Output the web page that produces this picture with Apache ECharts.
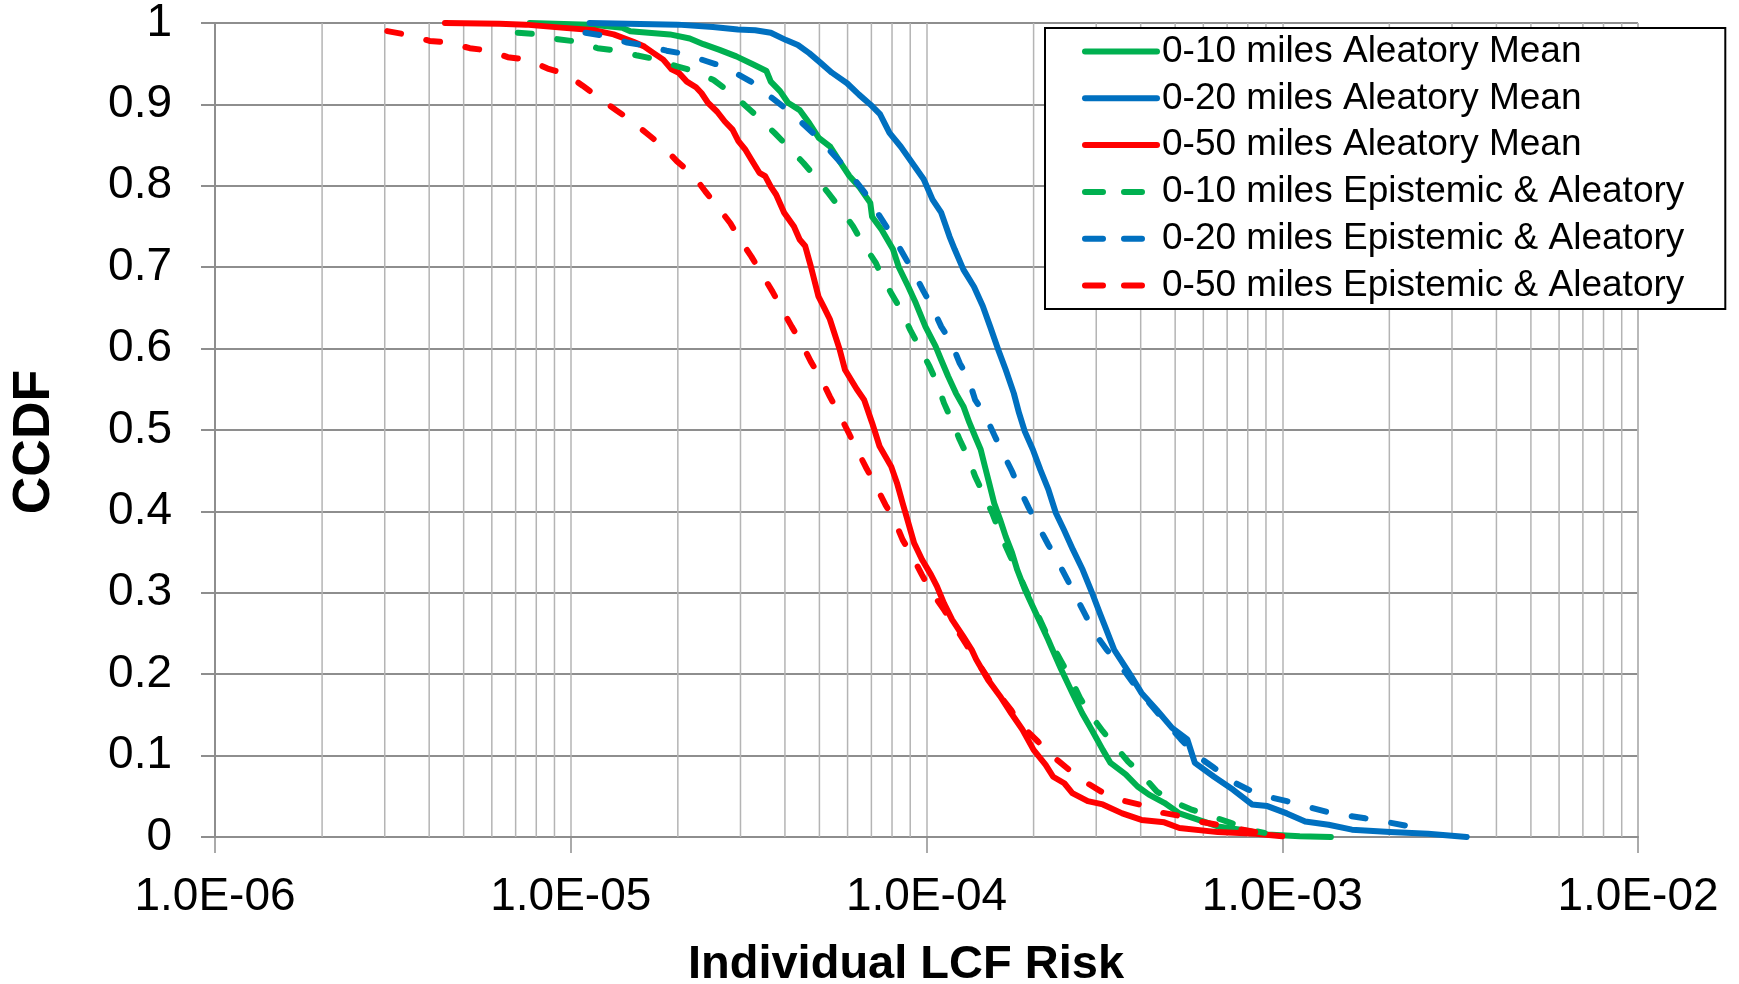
<!DOCTYPE html>
<html>
<head>
<meta charset="utf-8">
<title>CCDF of Individual LCF Risk</title>
<script src="https://cdn.jsdelivr.net/npm/echarts@6/dist/echarts.min.js"></script>
<style>
  html, body { margin: 0; padding: 0; background: #ffffff; }
  #chart { width: 1739px; height: 984px; }
</style>
</head>
<body>
<div id="chart"></div>
<script>
// Tick labels
const xTickLabels = ['1.0E-06', '1.0E-05', '1.0E-04', '1.0E-03', '1.0E-02'];
const yTickLabels = ['0', '0.1', '0.2', '0.3', '0.4', '0.5', '0.6', '0.7', '0.8', '0.9', '1'];

// Series names
const seriesNames = [
  '0-10 miles Aleatory Mean',
  '0-20 miles Aleatory Mean',
  '0-50 miles Aleatory Mean',
  '0-10 miles Epistemic & Aleatory',
  '0-20 miles Epistemic & Aleatory',
  '0-50 miles Epistemic & Aleatory'
];

// [individual LCF risk, CCDF]
const aleatory10 = [
  [7.67e-6,1.000],[1.13e-5,0.998],[1.40e-5,0.994],[1.47e-5,0.990],[1.90e-5,0.986],[2.16e-5,0.981],
  [2.36e-5,0.974],[2.62e-5,0.967],[2.92e-5,0.959],[3.26e-5,0.949],[3.55e-5,0.941],[3.65e-5,0.928],
  [3.88e-5,0.916],[4.08e-5,0.902],[4.40e-5,0.893],[4.68e-5,0.877],[4.98e-5,0.859],[5.36e-5,0.848],
  [5.70e-5,0.830],[6.07e-5,0.812],[6.46e-5,0.799],[6.95e-5,0.779],[7.03e-5,0.762],[7.48e-5,0.746],
  [8.05e-5,0.722],[8.36e-5,0.700],[8.89e-5,0.676],[9.33e-5,0.656],[9.93e-5,0.627],[1.06e-4,0.603],
  [1.10e-4,0.586],[1.15e-4,0.566],[1.21e-4,0.545],[1.27e-4,0.529],[1.32e-4,0.509],[1.37e-4,0.492],
  [1.42e-4,0.476],[1.46e-4,0.455],[1.50e-4,0.435],[1.55e-4,0.410],[1.61e-4,0.390],[1.67e-4,0.369],
  [1.74e-4,0.349],[1.80e-4,0.328],[1.89e-4,0.304],[1.99e-4,0.283],[2.09e-4,0.263],[2.20e-4,0.242],
  [2.24e-4,0.234],[2.39e-4,0.206],[2.57e-4,0.177],[2.74e-4,0.152],[2.91e-4,0.132],[3.13e-4,0.107],
  [3.29e-4,0.091],[3.63e-4,0.077],[3.92e-4,0.062],[4.22e-4,0.052],[4.66e-4,0.042],[5.14e-4,0.029],
  [5.82e-4,0.021],[6.59e-4,0.013],[7.64e-4,0.009],[9.08e-4,0.003],[1.12e-3,0.001],[1.37e-3,0.000]
];

const aleatory20 = [
  [1.13e-5,1.000],[2.00e-5,0.998],[2.51e-5,0.995],[2.95e-5,0.992],[3.30e-5,0.991],[3.65e-5,0.988],
  [4.03e-5,0.979],[4.35e-5,0.973],[4.68e-5,0.963],[5.04e-5,0.951],[5.42e-5,0.939],[5.98e-5,0.926],
  [6.46e-5,0.912],[6.95e-5,0.900],[7.40e-5,0.888],[7.87e-5,0.865],[8.47e-5,0.848],[9.12e-5,0.828],
  [9.82e-5,0.808],[1.04e-4,0.783],[1.10e-4,0.767],[1.16e-4,0.738],[1.20e-4,0.722],[1.27e-4,0.697],
  [1.36e-4,0.676],[1.44e-4,0.652],[1.51e-4,0.627],[1.59e-4,0.599],[1.67e-4,0.574],[1.76e-4,0.545],
  [1.82e-4,0.521],[1.89e-4,0.498],[1.99e-4,0.476],[2.09e-4,0.451],[2.20e-4,0.427],[2.31e-4,0.398],
  [2.43e-4,0.378],[2.58e-4,0.353],[2.75e-4,0.328],[2.92e-4,0.300],[3.07e-4,0.275],[3.20e-4,0.255],
  [3.37e-4,0.230],[3.72e-4,0.201],[4.02e-4,0.177],[4.44e-4,0.156],[4.90e-4,0.134],[5.41e-4,0.120],
  [5.68e-4,0.091],[6.43e-4,0.074],[7.28e-4,0.058],[8.22e-4,0.040],[9.08e-4,0.038],[1.03e-3,0.029],
  [1.16e-3,0.019],[1.35e-3,0.015],[1.57e-3,0.009],[2.01e-3,0.006],[2.57e-3,0.004],[3.30e-3,0.000]
];

const aleatory50 = [
  [4.43e-6,1.000],[6.31e-6,0.999],[7.47e-6,0.998],[9.57e-6,0.994],[1.17e-5,0.991],[1.32e-5,0.986],
  [1.50e-5,0.977],[1.61e-5,0.971],[1.71e-5,0.963],[1.82e-5,0.955],[1.92e-5,0.943],[2.01e-5,0.939],
  [2.12e-5,0.928],[2.25e-5,0.921],[2.33e-5,0.914],[2.43e-5,0.902],[2.58e-5,0.891],[2.71e-5,0.879],
  [2.85e-5,0.869],[2.96e-5,0.855],[3.10e-5,0.844],[3.22e-5,0.832],[3.39e-5,0.816],[3.52e-5,0.812],
  [3.65e-5,0.799],[3.78e-5,0.789],[3.98e-5,0.767],[4.24e-5,0.750],[4.40e-5,0.734],[4.56e-5,0.726],
  [4.73e-5,0.701],[4.97e-5,0.664],[5.16e-5,0.650],[5.35e-5,0.636],[5.69e-5,0.600],[5.90e-5,0.574],
  [6.37e-5,0.550],[6.68e-5,0.537],[7.03e-5,0.509],[7.38e-5,0.480],[7.96e-5,0.455],[8.26e-5,0.435],
  [8.57e-5,0.410],[8.89e-5,0.386],[9.23e-5,0.361],[9.71e-5,0.341],[1.03e-4,0.322],[1.07e-4,0.308],
  [1.12e-4,0.287],[1.18e-4,0.267],[1.27e-4,0.246],[1.34e-4,0.230],[1.38e-4,0.218],[1.49e-4,0.193],
  [1.61e-4,0.173],[1.73e-4,0.152],[1.86e-4,0.132],[2.00e-4,0.107],[2.16e-4,0.089],[2.27e-4,0.074],
  [2.44e-4,0.066],[2.57e-4,0.054],[2.84e-4,0.044],[3.13e-4,0.040],[3.55e-4,0.029],[4.02e-4,0.021],
  [4.66e-4,0.018],[5.14e-4,0.011],[6.59e-4,0.006],[8.43e-4,0.004],[1.00e-3,0.001]
];

const epistemic10 = [
  [7.10e-6,0.988],[8.18e-6,0.986],[9.20e-6,0.980],[1.05e-5,0.977],[1.19e-5,0.969],[1.36e-5,0.966],
  [1.54e-5,0.960],[1.76e-5,0.955],[1.98e-5,0.947],[2.22e-5,0.941],[2.52e-5,0.930],[2.78e-5,0.916],
  [3.07e-5,0.900],[3.39e-5,0.883],[3.74e-5,0.865],[4.08e-5,0.848],[4.51e-5,0.828],[4.85e-5,0.812],
  [5.30e-5,0.791],[5.70e-5,0.773],[6.22e-5,0.750],[6.61e-5,0.730],[7.21e-5,0.705],[7.48e-5,0.689],
  [7.96e-5,0.668],[8.47e-5,0.648],[9.00e-5,0.623],[9.57e-5,0.601],[1.02e-4,0.578],[1.07e-4,0.558],
  [1.12e-4,0.533],[1.18e-4,0.511],[1.24e-4,0.488],[1.31e-4,0.466],[1.37e-4,0.443],[1.44e-4,0.423],
  [1.53e-4,0.398],[1.62e-4,0.370],[1.72e-4,0.345],[1.83e-4,0.320],[1.94e-4,0.295],[2.07e-4,0.270],
  [2.21e-4,0.243],[2.39e-4,0.216],[2.54e-4,0.195],[2.70e-4,0.171],[2.87e-4,0.152],[3.13e-4,0.130],
  [3.37e-4,0.113],[3.68e-4,0.093],[4.02e-4,0.077],[4.44e-4,0.056],[4.90e-4,0.044],[5.53e-4,0.034],
  [6.27e-4,0.026],[7.10e-4,0.018],[8.04e-4,0.009],[8.91e-4,0.005]
];

const epistemic20 = [
  [1.10e-5,0.988],[1.26e-5,0.984],[1.44e-5,0.976],[1.63e-5,0.972],[1.86e-5,0.966],[2.09e-5,0.962],
  [2.41e-5,0.953],[2.71e-5,0.946],[3.21e-5,0.928],[3.55e-5,0.913],[3.94e-5,0.898],[4.35e-5,0.882],
  [4.79e-5,0.865],[5.25e-5,0.847],[5.73e-5,0.829],[6.19e-5,0.811],[6.70e-5,0.792],[7.21e-5,0.770],
  [7.76e-5,0.748],[8.32e-5,0.727],[8.89e-5,0.705],[9.12e-5,0.697],[9.82e-5,0.670],[1.03e-4,0.654],
  [1.10e-4,0.627],[1.17e-4,0.609],[1.24e-4,0.582],[1.31e-4,0.564],[1.37e-4,0.537],[1.46e-4,0.519],
  [1.55e-4,0.494],[1.63e-4,0.474],[1.74e-4,0.449],[1.82e-4,0.429],[1.94e-4,0.404],[2.04e-4,0.386],
  [2.20e-4,0.359],[2.31e-4,0.343],[2.49e-4,0.316],[2.61e-4,0.298],[2.81e-4,0.271],[2.94e-4,0.253],
  [3.21e-4,0.230],[3.46e-4,0.214],[3.80e-4,0.190],[4.22e-4,0.165],[4.68e-4,0.142],[5.19e-4,0.120],
  [5.75e-4,0.100],[6.43e-4,0.085],[7.10e-4,0.070],[8.04e-4,0.058],[8.99e-4,0.050],[1.03e-3,0.044],
  [1.16e-3,0.038],[1.33e-3,0.031],[1.49e-3,0.027],[1.71e-3,0.023],[1.93e-3,0.019],[2.22e-3,0.014],
  [2.51e-3,0.009]
];

const epistemic50 = [
  [3.05e-6,0.990],[3.53e-6,0.985],[4.01e-6,0.978],[4.57e-6,0.976],[5.20e-6,0.969],[5.92e-6,0.966],
  [6.65e-6,0.958],[7.57e-6,0.955],[8.61e-6,0.944],[9.72e-6,0.937],[1.08e-5,0.923],[1.20e-5,0.908],
  [1.34e-5,0.893],[1.48e-5,0.880],[1.65e-5,0.863],[1.82e-5,0.848],[1.99e-5,0.830],[2.20e-5,0.814],
  [2.39e-5,0.793],[2.58e-5,0.775],[2.81e-5,0.754],[2.99e-5,0.734],[3.22e-5,0.713],[3.43e-5,0.693],
  [3.69e-5,0.670],[3.93e-5,0.648],[4.18e-5,0.627],[4.45e-5,0.607],[4.73e-5,0.584],[5.04e-5,0.564],
  [5.35e-5,0.541],[5.69e-5,0.519],[6.05e-5,0.496],[6.37e-5,0.476],[6.78e-5,0.453],[7.21e-5,0.431],
  [7.67e-5,0.408],[8.15e-5,0.388],[8.57e-5,0.365],[9.12e-5,0.345],[9.71e-5,0.322],[1.03e-4,0.302],
  [1.12e-4,0.279],[1.20e-4,0.259],[1.30e-4,0.235],[1.40e-4,0.213],[1.49e-4,0.195],[1.56e-4,0.181],
  [1.73e-4,0.156],[1.82e-4,0.140],[2.06e-4,0.117],[2.21e-4,0.103],[2.51e-4,0.083],[2.74e-4,0.070],
  [3.09e-4,0.056],[3.46e-4,0.046],[3.96e-4,0.040],[4.44e-4,0.031],[5.14e-4,0.026],[5.68e-4,0.020],
  [6.59e-4,0.015],[7.28e-4,0.011],[8.43e-4,0.006],[8.90e-4,0.004]
];

const seriesData = [aleatory10, aleatory20, aleatory50, epistemic10, epistemic20, epistemic50];
const seriesColors = ['#00B050', '#0070C0', '#FF0000', '#00B050', '#0070C0', '#FF0000'];
const seriesDashed = [false, false, false, true, true, true];

// Minor vertical grid lines at 2..9 within each decade
const minorGridValues = [];
for (let e = -6; e <= -3; e++) {
  for (let m = 2; m <= 9; m++) minorGridValues.push(m * Math.pow(10, e));
}

const FONT = '"Liberation Sans", Arial, sans-serif';
const GRID_H = '#8e8e8e';
const GRID_V = '#b4b4b4';
const LINE_W = 6;
const PLOT_DASH = [14, 26];
const LEGEND_DASH = [18, 21];

const chart = echarts.init(document.getElementById('chart'), null, { renderer: 'canvas' });

const series = seriesData.map((d, i) => ({
  name: seriesNames[i],
  type: 'line',
  data: d,
  showSymbol: false,
  symbol: 'none',
  smooth: false,
  z: 3,
  lineStyle: {
    color: seriesColors[i],
    width: LINE_W,
    type: seriesDashed[i] ? PLOT_DASH : 'solid',
    cap: 'round',
    join: 'round'
  },
  itemStyle: { color: seriesColors[i] },
  emphasis: { disabled: true }
}));

// Minor vertical grid lines, drawn under the curves
series.unshift({
  name: 'minor-grid',
  type: 'custom',
  silent: true,
  z: 1,
  data: minorGridValues.map(v => [v, 0, 1]),
  encode: { x: 0, y: [1, 2] },
  renderItem: (params, api) => {
    const p0 = api.coord([api.value(0), api.value(1)]);
    const p1 = api.coord([api.value(0), api.value(2)]);
    return {
      type: 'line',
      shape: { x1: p0[0], y1: p0[1], x2: p1[0], y2: p1[1] },
      style: { stroke: GRID_V, lineWidth: 1.5 }
    };
  }
});

chart.setOption({
  animation: false,
  backgroundColor: '#ffffff',
  grid: { left: 215, right: 101, top: 23, bottom: 147, containLabel: false },
  xAxis: {
    type: 'log',
    logBase: 10,
    min: 1e-6,
    max: 1e-2,
    splitNumber: 4,
    axisLine: { show: true, onZero: false, lineStyle: { color: GRID_H, width: 2 } },
    axisTick: { show: true, inside: false, length: 16, lineStyle: { color: GRID_H, width: 1.5 } },
    axisLabel: {
      margin: 37,
      fontFamily: FONT,
      fontSize: 46,
      color: '#000',
      formatter: v => xTickLabels[Math.round(Math.log10(v)) + 6]
    },
    splitLine: { show: true, lineStyle: { color: GRID_V, width: 1.5 } }
  },
  yAxis: {
    type: 'value',
    min: 0,
    max: 1,
    interval: 0.1,
    axisLine: { show: true, lineStyle: { color: GRID_H, width: 2 } },
    axisTick: { show: true, inside: false, length: 14, lineStyle: { color: GRID_H, width: 2 } },
    axisLabel: {
      margin: 43,
      fontFamily: FONT,
      fontSize: 46,
      color: '#000',
      formatter: v => yTickLabels[Math.round(v * 10)]
    },
    splitLine: { show: true, lineStyle: { color: GRID_H, width: 2 } }
  },
  legend: {
    data: seriesNames.map((n, i) => ({
      name: n,
      lineStyle: { width: LINE_W, type: seriesDashed[i] ? LEGEND_DASH : 'solid', cap: 'round' }
    })),
    orient: 'vertical',
    left: 1045,
    top: 28,
    padding: [5, 41, 5, 37],
    itemGap: 9.8,
    itemWidth: 72,
    itemHeight: 14,
    itemStyle: { opacity: 0 },
    lineStyle: { width: LINE_W, cap: 'round' },
    backgroundColor: '#ffffff',
    borderColor: '#000000',
    borderWidth: 2,
    borderRadius: 0,
    selectedMode: false,
    textStyle: { fontFamily: FONT, fontSize: 37, color: '#000', lineHeight: 37 }
  },
  graphic: [
    {
      type: 'text',
      x: 35,
      y: 442,
      rotation: Math.PI / 2,
      style: {
        text: 'CCDF',
        font: 'bold 52px ' + FONT,
        fill: '#000',
        align: 'center',
        verticalAlign: 'middle'
      }
    },
    {
      type: 'text',
      x: 906,
      y: 965,
      style: {
        text: 'Individual LCF Risk',
        font: 'bold 47px ' + FONT,
        fill: '#000',
        align: 'center',
        verticalAlign: 'middle'
      }
    }
  ],
  series: series
});
</script>
</body>
</html>
